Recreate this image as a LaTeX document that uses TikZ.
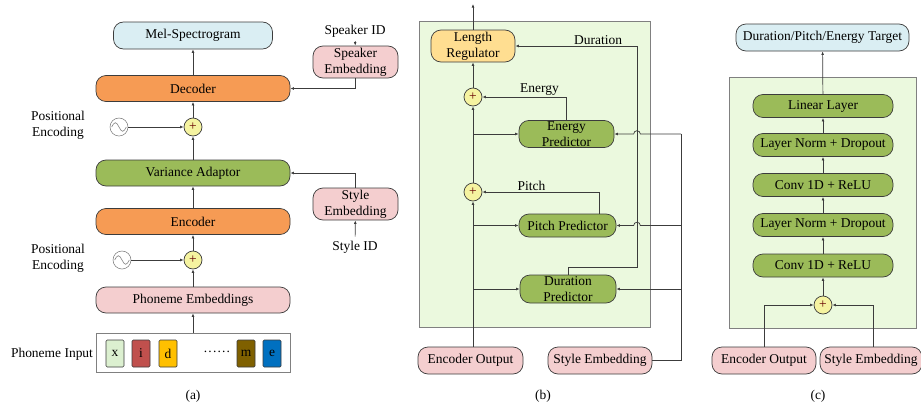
\documentclass[tikz,border=0pt]{standalone}
\usepackage{fontspec}
\setmainfont{Liberation Serif}
\usetikzlibrary{arrows.meta}
\definecolor{MelBlue}{RGB}{218,238,243}
\definecolor{CodeOrange}{RGB}{246,155,84}
\definecolor{VarGreen}{RGB}{155,187,89}
\definecolor{EmbPink}{RGB}{244,206,207}
\definecolor{AddYellow}{RGB}{245,243,160}
\definecolor{RegOrange}{RGB}{255,222,145}
\definecolor{PanelGreen}{RGB}{235,249,222}
\definecolor{LineGray}{RGB}{60,60,60}
\definecolor{TokX}{RGB}{220,240,208}
\definecolor{TokI}{RGB}{192,80,77}
\definecolor{TokD}{RGB}{255,192,0}
\definecolor{TokM}{RGB}{127,96,0}
\definecolor{TokE}{RGB}{0,112,192}

\begin{document}
\begin{tikzpicture}[x=0.3mm,y=-0.3mm,
  font=\fontsize{11.5}{13.5}\selectfont,
  blk/.style={draw=LineGray,line width=0.6pt,rounded corners=3mm,align=center,inner sep=1pt},
  stk/.style={blk,fill=VarGreen,minimum width=42mm,minimum height=6.9mm},
  arr/.style={draw=LineGray,line width=0.6pt,-{Latex[length=3pt,width=2.4pt]}},
  ln/.style={draw=LineGray,line width=0.6pt},
  add/.style={circle,draw=LineGray,line width=0.6pt,fill=AddYellow,minimum size=5.4mm,inner sep=0pt,text=red!40!black},
  wave/.style={circle,draw=gray,line width=0.5pt,fill=white,minimum size=5.4mm,inner sep=0pt},
  tok/.style={draw=LineGray,line width=0.5pt,rounded corners=1pt,minimum width=5.4mm,minimum height=8.1mm,inner sep=0pt},
  panel/.style={draw=gray,line width=0.6pt,fill=PanelGreen}]
  \useasboundingbox (0,0) rectangle (921,407);

  % (a) acoustic model
  \node[blk,fill=MelBlue,minimum width=47.7mm,minimum height=8.1mm] (mel) at (193,35.5) {Mel-Spectrogram};
  \node[blk,fill=CodeOrange,minimum width=58.2mm,minimum height=7.8mm] (dec) at (193,88.5) {Decoder};
  \node (spkid) at (355,31) {Speaker ID};
  \node[blk,fill=EmbPink,minimum width=25.5mm,minimum height=9.6mm] (spk) at (355.5,62) {Speaker\\Embedding};
  \node[align=center] (pos1) at (58,125) {Positional\\Encoding};
  \node[wave] (sin1) at (119,127) {};
  \node[add] (pe1) at (193,127) {+};
  \node[blk,fill=VarGreen,minimum width=58.2mm,minimum height=7.8mm] (va) at (193,173) {Variance Adaptor};
  \node[blk,fill=EmbPink,minimum width=25.5mm,minimum height=9.6mm] (sty) at (355.5,204) {Style\\Embedding};
  \node (styid) at (355,247) {Style ID};
  \node[blk,fill=CodeOrange,minimum width=58.2mm,minimum height=7.8mm] (enc) at (193,221.5) {Encoder};
  \node[align=center] (pos2) at (58,258) {Positional\\Encoding};
  \node[wave] (sin2) at (122,260) {};
  \node[add] (pe2) at (193,260) {+};
  \node[blk,fill=EmbPink,minimum width=58.2mm,minimum height=7.8mm] (emb) at (193,300) {Phoneme Embeddings};
  \node[draw=gray,line width=0.6pt,fill=white,minimum width=58.2mm,minimum height=11.7mm] (inp) at (193,352.5) {};
  \node (inplab) at (52,354) {Phoneme Input};
  \foreach \t/\c/\x in {x/TokX/115,i/TokI/141,d/TokD/168,m/TokM/246,e/TokE/272}
    \node[tok,fill=\c] (t\t) at (\x,353.5) {\t};
  \node (tdots) at (217,352) {.\kern1pt.\kern1pt.\kern1pt.\kern1pt.\kern1pt.};
  \node (capa) at (193,396) {(a)};

  \foreach \w in {sin1,sin2}
    \draw[gray,line width=0.5pt] ([xshift=-2.2mm]\w.center) sin ++(1.1mm,1.3mm) cos ++(1.1mm,-1.3mm) sin ++(1.1mm,-1.3mm) cos ++(1.1mm,1.3mm);

  \draw[arr] (dec) -- (mel);
  \draw[arr] (spkid) -- (spk);
  \draw[arr] (spk.south) |- (dec.east);
  \draw[arr] (pe1) -- (dec);
  \draw[arr] (sin1) -- (pe1);
  \draw[arr] (va) -- (pe1);
  \draw[arr] (sty.north) |- (va.east);
  \draw[arr] (styid) -- (sty);
  \draw[arr] (enc) -- (va);
  \draw[arr] (pe2) -- (enc);
  \draw[arr] (sin2) -- (pe2);
  \draw[arr] (emb) -- (pe2);
  \draw[arr] (inp) -- (emb);

  % (b) variance adaptor
  \draw[panel] (419,21) rectangle (650,327);
  \node[blk,fill=RegOrange,minimum width=25.2mm,minimum height=9.6mm] (lr) at (473,46) {Length\\Regulator};
  \coordinate (lrout) at (473,4);
  \node[add] (pb1) at (473,97) {+};
  \node[blk,fill=VarGreen,minimum width=28.5mm,minimum height=8.1mm] (ep) at (566.5,134) {Energy\\Predictor};
  \node[add] (pb2) at (473,192) {+};
  \node[blk,fill=VarGreen,minimum width=29.1mm,minimum height=6.9mm] (pp) at (567.5,225.5) {Pitch Predictor};
  \node[blk,fill=VarGreen,minimum width=28.8mm,minimum height=8.4mm] (dp) at (568,289) {Duration\\Predictor};
  \node[blk,fill=EmbPink,minimum width=31.5mm,minimum height=8.1mm] (eob) at (470.5,360.5) {Encoder Output};
  \node[blk,fill=EmbPink,minimum width=31.2mm,minimum height=8.1mm] (seb) at (600,360.5) {Style Embedding};
  \coordinate (durx) at (637,267);
  \coordinate (stybus) at (681,134);
  \node (capb) at (543,396) {(b)};

  \draw[arr] (lr) -- (lrout);
  \draw[arr] (pb1) -- (lr);
  \draw[arr] (pb2) -- (pb1);
  \draw[arr] (pb2 |- eob.north) -- (pb2);
  \draw[arr] (pb1 |- ep.west) -- (ep.west);
  \draw[arr] (pb1 |- pp.west) -- (pp.west);
  \draw[arr] (pb1 |- dp.west) -- (dp.west);
  \draw[arr] (ep.north) |- node[pos=0.66,above,inner sep=1pt] {Energy} (pb1.east);
  \draw[arr] ([xshift=9.6mm]pp.north) |- node[pos=0.79,above,inner sep=1pt] {Pitch} (pb2.east);
  \draw[arr] (dp.north) |- (durx) |- node[pos=0.66,above,inner sep=1pt] {Duration} (lr.east);
  \draw[ln] (seb.east) -| (stybus);
  \draw[arr] (stybus) -- ([xshift=1mm]durx |- ep.east) arc[start angle=0,end angle=180,radius=1mm] -- (ep.east);
  \draw[arr] (stybus |- pp.east) -- ([xshift=1mm]durx |- pp.east) arc[start angle=0,end angle=180,radius=1mm] -- (pp.east);
  \draw[arr] (stybus |- dp.east) -- (dp.east);

  % (c) predictor
  \draw[panel] (729,77) rectangle (916,328);
  \node[blk,fill=MelBlue,minimum width=51.9mm,minimum height=8.1mm] (tgt) at (822.5,37.5) {Duration/Pitch/Energy Target};
  \node[stk] (ll) at (823,106) {Linear Layer};
  \node[stk] (ln1) at (823,145) {Layer Norm + Dropout};
  \node[stk] (cv1) at (823,185) {Conv 1D + ReLU};
  \node[stk] (ln2) at (823,225) {Layer Norm + Dropout};
  \node[stk] (cv2) at (823,265.5) {Conv 1D + ReLU};
  \node[add] (pc) at (823,305) {+};
  \node[blk,fill=EmbPink,minimum width=31.2mm,minimum height=8.1mm] (eoc) at (764,360.5) {Encoder Output};
  \node[blk,fill=EmbPink,minimum width=30.6mm,minimum height=8.1mm] (sec) at (871,360.5) {Style Embedding};
  \node (capc) at (818,396) {(c)};

  \draw[arr] (ll) -- (tgt);
  \draw[arr] (ln1) -- (ll);
  \draw[arr] (cv1) -- (ln1);
  \draw[arr] (ln2) -- (cv1);
  \draw[arr] (cv2) -- (ln2);
  \draw[arr] (pc) -- (cv2);
  \draw[arr] (eoc.north) |- (pc.west);
  \draw[arr] ([xshift=0.6mm]sec.north) |- (pc.east);
\end{tikzpicture}
\end{document}
